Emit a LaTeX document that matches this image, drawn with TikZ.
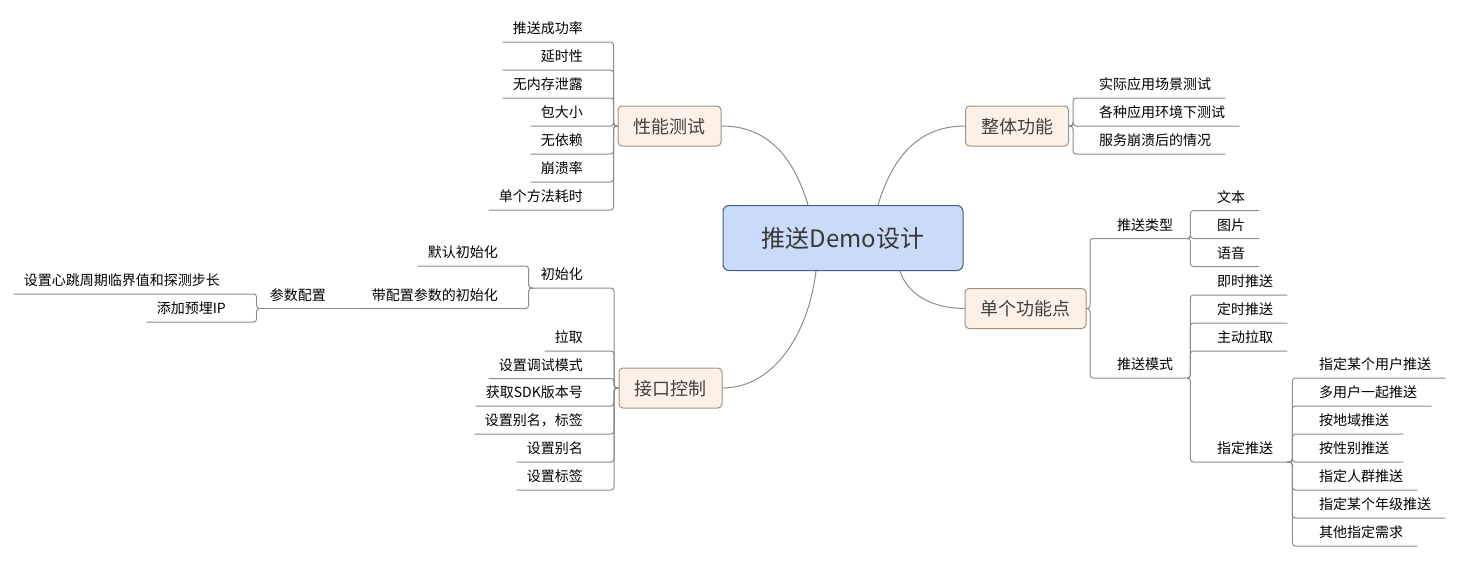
\documentclass[tikz,border=0pt]{standalone}
\usepackage{fontspec}
\newfontfamily\cjk{Noto Sans CJK SC}
\definecolor{rootfill}{RGB}{201,219,248}
\definecolor{rootline}{RGB}{63,93,142}
\definecolor{topicfill}{RGB}{253,241,231}
\definecolor{topicline}{RGB}{163,146,130}
\definecolor{linkgray}{RGB}{140,140,140}
\begin{document}
\begin{tikzpicture}[x=1pt, y=-1pt,
  root/.style={draw=rootline, fill=rootfill, rounded corners=6pt, line width=1pt, minimum width=240pt, minimum height=65pt, text=black!78, font=\cjk\fontsize{24}{28}\selectfont, text height=21pt, text depth=3pt},
  topic/.style={draw=topicline, fill=topicfill, rounded corners=4pt, line width=1pt, inner xsep=15.5pt, minimum height=40pt, text=black!75, font=\cjk\fontsize{18}{22}\selectfont, text height=16pt, text depth=2pt},
  leafl/.style={anchor=south east, inner xsep=10pt, inner ysep=6pt, text height=11pt, text depth=2pt, font=\cjk\fontsize{14}{16}\selectfont},
  leafr/.style={leafl, anchor=south west, inner xsep=14pt},
  curve/.style={draw=linkgray, line width=1pt},
  tree/.style={draw=linkgray, line width=1pt, rounded corners=3pt}
]
\useasboundingbox (0,0) rectangle (1462,562);
\node[root]  (root)   at (843,238)     {推送Demo设计};
\node[topic] (perf)   at (669.5,126)   {性能测试};
\node[topic] (whole)  at (1017,126)    {整体功能};
\node[topic] (single) at (1025.5,308.5) {单个功能点};
\node[topic] (api)    at (670.5,388)   {接口控制};
\draw[curve] (perf.east) .. controls +(45,0) and +(-15,-50) .. ([xshift=-35pt]root.north);
\draw[curve] (whole.west) .. controls +(-45,0) and +(15,-50) .. ([xshift=35pt]root.north);
\draw[curve] (single.west) .. controls +(-30,0) and +(8,25) .. ([xshift=57pt]root.south);
\draw[curve] (api.east) .. controls +(50,0) and +(-8,65) .. ([xshift=-27pt]root.south);
\node[leafl] (p1) at (593,42)  {推送成功率};
\node[leafl] (p2) at (593,70)  {\hspace*{28pt}延时性};
\node[leafl] (p3) at (593,98)  {无内存泄露};
\node[leafl] (p4) at (593,126) {包大小};
\node[leafl] (p5) at (593,154) {无依赖};
\node[leafl] (p6) at (593,182) {崩溃率};
\node[leafl] (p7) at (593,210) {单个方法耗时};
\draw[tree] (perf.west) -- ++(-4,0) |- (p1.south west);
\draw[tree] (perf.west) -- ++(-4,0) |- (p2.south west);
\draw[tree] (perf.west) -- ++(-4,0) |- (p3.south west);
\draw[tree] (perf.west) -- ++(-4,0) |- (p4.south west);
\draw[tree] (perf.west) -- ++(-4,0) |- (p5.south west);
\draw[tree] (perf.west) -- ++(-4,0) |- (p6.south west);
\draw[tree] (perf.west) -- ++(-4,0) |- (p7.south west);
\node[leafr] (w1) at (1085,98)  {实际应用场景测试};
\node[leafr] (w2) at (1085,126) {各种应用环境下测试};
\node[leafr] (w3) at (1085,154) {服务崩溃后的情况};
\draw[tree] (whole.east) -- ++(4,0) |- (w1.south east);
\draw[tree] (whole.east) -- ++(4,0) |- (w2.south east);
\draw[tree] (whole.east) -- ++(4,0) |- (w3.south east);
\node[leafr] (s1) at (1103,238.5) {推送类型};
\node[leafr] (s2) at (1103,378)   {推送模式};
\draw[tree] (single.east) -- ++(3.5,0) |- (s1.south east);
\draw[tree] (single.east) -- ++(3.5,0) |- (s2.south east);
\node[leafr] (t1) at (1203,210.5) {文本};
\node[leafr] (t2) at (1203,238.5) {图片};
\node[leafr] (t3) at (1203,266.5) {语音};
\draw[tree] (s1.south east) -- ++(3,0) |- (t1.south east);
\draw[tree] (s1.south east) -- ++(3,0) |- (t2.south east);
\draw[tree] (s1.south east) -- ++(3,0) |- (t3.south east);
\node[leafr] (m1) at (1203,295) {即时推送};
\node[leafr] (m2) at (1203,323) {定时推送};
\node[leafr] (m3) at (1203,351) {主动拉取};
\node[leafr] (m4) at (1203,462) {指定推送};
\draw[tree] (s2.south east) -- ++(3,0) |- (m1.south east);
\draw[tree] (s2.south east) -- ++(3,0) |- (m2.south east);
\draw[tree] (s2.south east) -- ++(3,0) |- (m3.south east);
\draw[tree] (s2.south east) -- ++(3,0) |- (m4.south east);
\node[leafr] (d1) at (1305,378) {指定某个用户推送};
\node[leafr] (d2) at (1305,406) {多用户一起推送};
\node[leafr] (d3) at (1305,434) {按地域推送};
\node[leafr] (d4) at (1305,462) {按性别推送};
\node[leafr] (d5) at (1305,490) {指定人群推送};
\node[leafr] (d6) at (1305,518) {指定某个年级推送};
\node[leafr] (d7) at (1305,546) {其他指定需求};
\draw[tree] (m4.south east) -- ++(5,0) |- (d1.south east);
\draw[tree] (m4.south east) -- ++(5,0) |- (d2.south east);
\draw[tree] (m4.south east) -- ++(5,0) |- (d3.south east);
\draw[tree] (m4.south east) -- ++(5,0) |- (d4.south east);
\draw[tree] (m4.south east) -- ++(5,0) |- (d5.south east);
\draw[tree] (m4.south east) -- ++(5,0) |- (d6.south east);
\draw[tree] (m4.south east) -- ++(5,0) |- (d7.south east);
\node[leafl] (a1) at (593,288)   {初始化};
\node[leafl] (a2) at (593,351)   {拉取};
\node[leafl] (a3) at (593,378.5) {设置调试模式};
\node[leafl] (a4) at (593,406)   {获取SDK版本号};
\node[leafl] (a5) at (593,434)   {设置别名，标签};
\node[leafl] (a6) at (593,462)   {设置别名};
\node[leafl] (a7) at (593,490)   {设置标签};
\draw[tree] (api.west) -- ++(-4.5,0) |- (a1.south west);
\draw[tree] (api.west) -- ++(-4.5,0) |- (a2.south west);
\draw[tree] (api.west) -- ++(-4.5,0) |- (a3.south west);
\draw[tree] (api.west) -- ++(-4.5,0) |- (a4.south west);
\draw[tree] (api.west) -- ++(-4.5,0) |- (a5.south west);
\draw[tree] (api.west) -- ++(-4.5,0) |- (a6.south west);
\draw[tree] (api.west) -- ++(-4.5,0) |- (a7.south west);
\node[leafl] (i1) at (508,266)   {默认初始化};
\node[leafl] (i2) at (508,308.5) {带配置参数的初始化};
\draw[tree] (a1.south west) -- ++(-2,0) |- (i1.south west);
\draw[tree] (a1.south west) -- ++(-2,0) |- (i2.south west);
\node[leafl] (cfg) at (336,308.5) {参数配置};
\draw[tree] (i2.south west) -- (cfg.south west);
\node[leafl] (h1) at (230,294) {设置心跳周期临界值和探测步长};
\node[leafl] (h2) at (236,322) {添加预埋IP};
\draw[tree] (cfg.south west) -- ++(-3,0) |- (h1.south west);
\draw[tree] (cfg.south west) -- ++(-3,0) |- (h2.south west);
\end{tikzpicture}
\end{document}
